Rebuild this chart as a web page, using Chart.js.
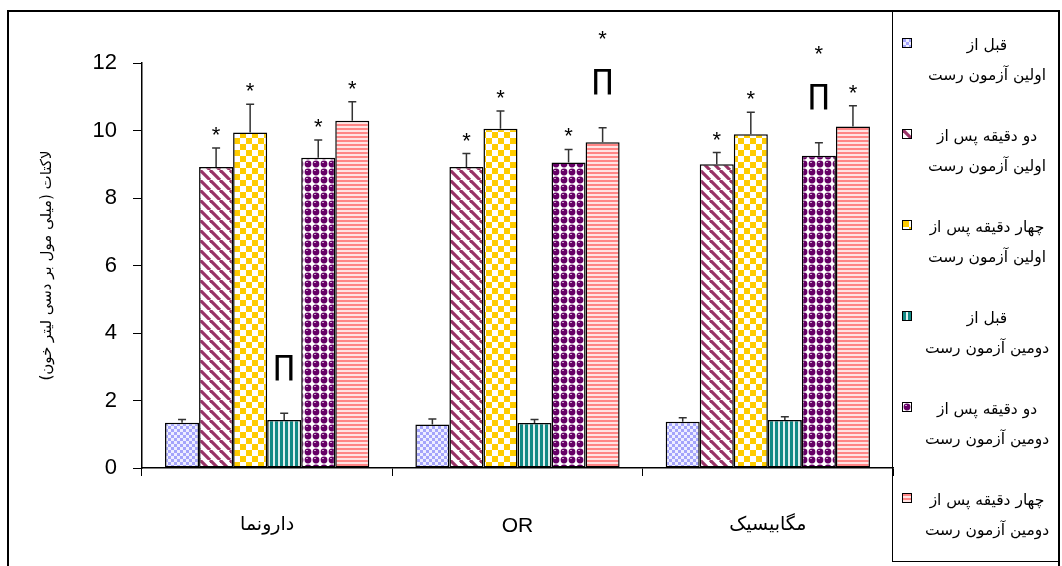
<!DOCTYPE html>
<html>
<head>
<meta charset="utf-8">
<script src="https://cdn.jsdelivr.net/npm/chart.js@4.4.1/dist/chart.umd.min.js"></script>
<style>
  html, body { margin: 0; padding: 0; background: #fff; }
  #wrap { position: relative; width: 1062px; height: 566px; overflow: hidden; }
  #chart { position: absolute; left: 0; top: 0; }
  #frame {
    position: absolute; left: 7px; top: 10px; width: 1053px; height: 620px;
    border: 2px solid #000; box-sizing: border-box;
  }
  #legend {
    position: absolute; left: 892px; top: 10px; width: 168px; height: 552px;
    border: 1.5px solid #000; border-top: none; box-sizing: border-box;
    font-family: 'DejaVu Sans', sans-serif; font-size: 15.5px; color: #000;
  }
  .item { position: absolute; left: 0; width: 100%; height: 70px; }
  .item canvas { position: absolute; left: 9px; top: 0; border: 1px solid #000; }
  .item .txt { position: absolute; left: 22px; width: 144px; top: -8px; text-align: center; line-height: 30px; white-space: nowrap; }
</style>
</head>
<body>
<div id="wrap">
  <canvas id="chart" width="1062" height="566"></canvas>
  <div id="frame"></div>
  <div id="legend"></div>
</div>
<script>
const categories = ['دارونما', 'OR', 'مگابیسیک'];
const yTicks = [0, 2, 4, 6, 8, 10, 12];
const yTitle = 'لاکتات (میلی مول بر دسی لیتر خون)';

const seriesNames = [
  ['قبل از', 'اولین آزمون رست'],
  ['دو دقیقه پس از', 'اولین آزمون رست'],
  ['چهار دقیقه پس از', 'اولین آزمون رست'],
  ['قبل از', 'دومین آزمون رست'],
  ['دو دقیقه پس از', 'دومین آزمون رست'],
  ['چهار دقیقه پس از', 'دومین آزمون رست']
];

// mean values
const beforeTest1 = [1.34, 1.29, 1.37];
const twoMinTest1 = [8.92, 8.92, 9.00];
const fourMinTest1 = [9.94, 10.05, 9.89];
const beforeTest2 = [1.42, 1.33, 1.42];
const twoMinTest2 = [9.19, 9.05, 9.25];
const fourMinTest2 = [10.29, 9.65, 10.12];

// error (upper bar only)
const errBeforeTest1 = [0.10, 0.16, 0.12];
const errTwoMinTest1 = [0.56, 0.40, 0.35];
const errFourMinTest1 = [0.84, 0.53, 0.65];
const errBeforeTest2 = [0.20, 0.11, 0.10];
const errTwoMinTest2 = [0.53, 0.39, 0.39];
const errFourMinTest2 = [0.56, 0.43, 0.61];

// significance marks, listed from the bar upwards
const marksBeforeTest1 = ['', '', ''];
const marksTwoMinTest1 = ['*', '*', '*'];
const marksFourMinTest1 = ['*', '*', '*'];
const marksBeforeTest2 = ['∏', '', ''];
const marksTwoMinTest2 = ['*', '*', '∏*'];
const marksFourMinTest2 = ['*', '∏*', '*'];

const values = [beforeTest1, twoMinTest1, fourMinTest1, beforeTest2, twoMinTest2, fourMinTest2];
const errors = [errBeforeTest1, errTwoMinTest1, errFourMinTest1, errBeforeTest2, errTwoMinTest2, errFourMinTest2];
const marks = [marksBeforeTest1, marksTwoMinTest1, marksFourMinTest1, marksBeforeTest2, marksTwoMinTest2, marksFourMinTest2];

// fill patterns
function makeTile(w, h, draw) {
  const c = document.createElement('canvas');
  c.width = w; c.height = h;
  const g = c.getContext('2d');
  draw(g, w, h);
  return c;
}

const tiles = [
  // lavender fine checks
  makeTile(6, 6, (g) => {
    g.fillStyle = '#eeeeff'; g.fillRect(0, 0, 6, 6);
    g.fillStyle = '#a4a4fb'; g.fillRect(0, 0, 3, 3); g.fillRect(3, 3, 3, 3);
  }),
  // maroon diagonal stripes
  makeTile(10, 10, (g) => {
    g.fillStyle = '#fff'; g.fillRect(0, 0, 10, 10);
    g.strokeStyle = '#993366'; g.lineWidth = 3.2;
    for (let k = -10; k <= 20; k += 10) {
      g.beginPath(); g.moveTo(k, 0); g.lineTo(k + 10, 10); g.stroke();
    }
  }),
  // yellow checkerboard
  makeTile(12, 12, (g) => {
    g.fillStyle = '#fff'; g.fillRect(0, 0, 12, 12);
    g.fillStyle = '#ffcc00'; g.fillRect(0, 0, 6, 6); g.fillRect(6, 6, 6, 6);
  }),
  // teal vertical stripes
  makeTile(5, 5, (g) => {
    g.fillStyle = '#dff0ef'; g.fillRect(0, 0, 5, 5);
    g.fillStyle = '#118a85'; g.fillRect(0, 0, 3, 5);
  }),
  // purple spheres
  makeTile(8, 8, (g) => {
    g.fillStyle = '#fff'; g.fillRect(0, 0, 8, 8);
    g.fillStyle = '#660066';
    g.beginPath(); g.arc(4, 4, 3.4, 0, Math.PI * 2); g.fill();
    g.fillStyle = '#c9a3c9'; g.fillRect(2, 2, 2, 1);
  }),
  // pink horizontal stripes
  makeTile(4, 4, (g) => {
    g.fillStyle = '#ffe3e3'; g.fillRect(0, 0, 4, 4);
    g.fillStyle = '#ff8585'; g.fillRect(0, 0, 4, 2);
  })
];

const ctx = document.getElementById('chart').getContext('2d');
const patterns = tiles.map(t => ctx.createPattern(t, 'repeat'));

const errorBarsPlugin = {
  id: 'errorBars',
  afterDatasetsDraw(chart) {
    const c = chart.ctx;
    const y = chart.scales.y;
    c.save();
    chart.data.datasets.forEach((ds, i) => {
      const meta = chart.getDatasetMeta(i);
      meta.data.forEach((bar, j) => {
        const top = y.getPixelForValue(ds.data[j] + errors[i][j]);
        c.strokeStyle = '#333';
        c.lineWidth = 1.5;
        c.beginPath();
        c.moveTo(bar.x, bar.y);
        c.lineTo(bar.x, top);
        c.moveTo(bar.x - 4, top);
        c.lineTo(bar.x + 4, top);
        c.stroke();

        // significance marks stacked above the error bar
        let level = top;
        for (const ch of marks[i][j]) {
          c.fillStyle = '#000';
          c.textAlign = 'center';
          c.textBaseline = 'middle';
          if (ch === '*') {
            c.font = '22px "Liberation Sans"';
            c.fillText('*', bar.x, level - 12);
            level -= 30;
          } else {
            c.font = '28px "DejaVu Sans"';
            c.fillText('∏', bar.x, level - 46);
            level -= 76;
          }
        }
      });
    });
    c.restore();
  }
};

new Chart(ctx, {
  type: 'bar',
  data: {
    labels: categories,
    datasets: values.map((v, i) => ({
      label: seriesNames[i].join(' '),
      data: v,
      backgroundColor: patterns[i],
      borderColor: '#000',
      borderWidth: 1.5,
      borderSkipped: false,
      categoryPercentage: 0.816,
      barPercentage: 1.0
    }))
  },
  options: {
    responsive: false,
    animation: false,
    layout: { padding: { left: 34, top: 63, right: 169, bottom: 0 } },
    plugins: {
      legend: { display: false },
      tooltip: { enabled: false }
    },
    scales: {
      x: {
        afterFit(scale) { scale.height = 98; },
        grid: { drawOnChartArea: false, color: '#000', tickLength: 8, lineWidth: 1 },
        border: { display: true, color: '#000', width: 1.5 },
        ticks: {
          color: '#000',
          padding: 38,
          font: (c) => c.index === 1
            ? { family: "'Liberation Sans'", size: 21 }
            : { family: "'DejaVu Sans'", size: 19 }
        }
      },
      y: {
        min: 0,
        max: 12,
        afterFit(scale) { scale.width = 108; },
        afterBuildTicks(scale) { scale.ticks = yTicks.map(v => ({ value: v })); },
        grid: { drawOnChartArea: false, color: '#000', tickLength: 9, lineWidth: 1 },
        border: { display: true, color: '#000', width: 1.5 },
        ticks: {
          color: '#000',
          padding: 16,
          font: { family: "'Liberation Sans'", size: 22 }
        },
        title: {
          display: true,
          text: '\u200F' + yTitle + '\u200F',
          color: '#000',
          padding: { top: 4, bottom: 0 },
          font: { family: "'DejaVu Sans'", size: 15 }
        }
      }
    }
  },
  plugins: [errorBarsPlugin]
});

// legend with the same fill patterns
const legend = document.getElementById('legend');
seriesNames.forEach((lines, i) => {
  const item = document.createElement('div');
  item.className = 'item';
  item.style.top = (28 + i * 91) + 'px';
  const sw = document.createElement('canvas');
  sw.width = 8; sw.height = 8;
  const g = sw.getContext('2d');
  g.fillStyle = g.createPattern(tiles[i], 'repeat');
  g.fillRect(0, 0, 8, 8);
  const txt = document.createElement('div');
  txt.className = 'txt';
  txt.dir = 'rtl';
  txt.innerHTML = lines[0] + '<br>' + lines[1];
  item.appendChild(sw);
  item.appendChild(txt);
  legend.appendChild(item);
});
</script>
</body>
</html>
